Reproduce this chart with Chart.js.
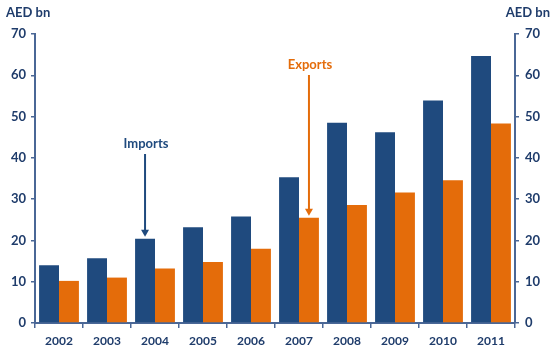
<!DOCTYPE html>
<html>
<head>
<meta charset="utf-8">
<script src="https://cdn.jsdelivr.net/npm/chart.js@4/dist/chart.umd.min.js"></script>
<style>
  html, body { margin: 0; padding: 0; background: #fff; }
  #wrap { width: 555px; height: 361px; position: relative; }
</style>
</head>
<body>
<div id="wrap"><canvas id="tradeChart"></canvas></div>
<script>
// data
const years = ['2002','2003','2004','2005','2006','2007','2008','2009','2010','2011'];
const imports = [14.0, 15.7, 20.4, 23.2, 25.8, 35.3, 48.5, 46.2, 53.9, 64.7];
const exports = [10.2, 11.0, 13.2, 14.8, 18.0, 25.5, 28.6, 31.6, 34.6, 48.3];
const axisTicks = [0, 10, 20, 30, 40, 50, 60, 70];

const BLUE = '#1f4a7e';
const ORANGE = '#e46c0a';
const TEXT = '#1f3c6b';
const AXIS = '#4a6796';
const FONT = 'Lato, "Open Sans", sans-serif';

// titles + arrows
const annotations = {
  id: 'annotations',
  afterDatasetsDraw(chart) {
    const ctx = chart.ctx;
    ctx.save();
    ctx.font = 'bold 13px ' + FONT;
    ctx.fillStyle = TEXT;
    ctx.textBaseline = 'middle';
    ctx.textAlign = 'left';
    ctx.fillText('AED bn', 6, 13);
    ctx.textAlign = 'right';
    ctx.fillText('AED bn', 550, 13);

    function arrow(bar, label, color, topY) {
      const x = bar.x;
      const tipY = bar.y - 2;
      ctx.strokeStyle = color;
      ctx.fillStyle = color;
      ctx.lineWidth = 2;
      ctx.beginPath();
      ctx.moveTo(x, topY + 10);
      ctx.lineTo(x, tipY - 6);
      ctx.stroke();
      ctx.beginPath();
      ctx.moveTo(x - 4, tipY - 7);
      ctx.lineTo(x + 4, tipY - 7);
      ctx.lineTo(x, tipY);
      ctx.closePath();
      ctx.fill();
      ctx.textAlign = 'center';
      ctx.font = 'bold 13px ' + FONT;
      ctx.fillText(label, x + 1, topY);
    }
    const imp = chart.getDatasetMeta(0).data[2];
    const exp = chart.getDatasetMeta(1).data[5];
    arrow(imp, 'Imports', BLUE, 144);
    arrow(exp, 'Exports', ORANGE, 65);
    ctx.restore();
  }
};

new Chart(document.getElementById('tradeChart'), {
  type: 'bar',
  data: {
    labels: years,
    datasets: [
      { label: 'Imports', data: imports, backgroundColor: BLUE, yAxisID: 'y',
        categoryPercentage: 0.83, barPercentage: 1.0 },
      { label: 'Exports', data: exports, backgroundColor: ORANGE, yAxisID: 'y',
        categoryPercentage: 0.83, barPercentage: 1.0 }
    ]
  },
  options: {
    responsive: true,
    maintainAspectRatio: false,
    animation: false,
    layout: { padding: { top: 34, left: 0, right: 0, bottom: 0 } },
    plugins: { legend: { display: false }, tooltip: { enabled: false } },
    scales: {
      x: {
        offset: true,
        grid: { display: true, drawOnChartArea: false, drawTicks: true, tickLength: 5,
                offset: true, color: AXIS, lineWidth: 1.5 },
        border: { color: AXIS, width: 2 },
        ticks: { color: TEXT, font: { family: FONT, size: 12, weight: 'bold' }, padding: 6,
                 maxRotation: 0 },
        afterFit(scale) { scale.height = 38; }
      },
      y: {
        position: 'left',
        min: 0, max: 70,
        afterBuildTicks(scale) { scale.ticks = axisTicks.map(v => ({ value: v })); },
        grid: { drawOnChartArea: false, drawTicks: true, tickLength: 4, color: AXIS, lineWidth: 1.5 },
        border: { color: AXIS, width: 2 },
        ticks: { color: TEXT, font: { family: FONT, size: 13, weight: 'bold' }, padding: 5 },
        afterFit(scale) { scale.width = 35; }
      },
      y2: {
        position: 'right',
        display: true,
        min: 0, max: 70,
        afterBuildTicks(scale) { scale.ticks = axisTicks.map(v => ({ value: v })); },
        grid: { drawOnChartArea: false, drawTicks: true, tickLength: 4, color: AXIS, lineWidth: 1.5 },
        border: { color: AXIS, width: 2 },
        ticks: { color: TEXT, font: { family: FONT, size: 13, weight: 'bold' }, padding: 6 },
        afterFit(scale) { scale.width = 40; }
      }
    }
  },
  plugins: [annotations]
});
</script>
</body>
</html>
